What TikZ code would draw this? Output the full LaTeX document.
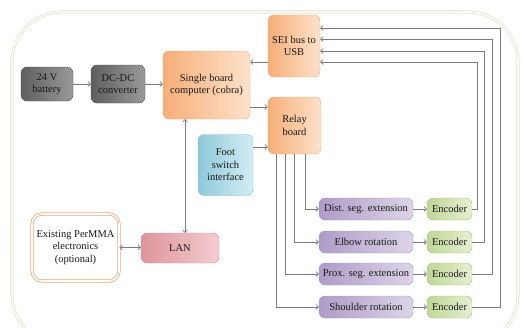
\documentclass[tikz,border=0pt]{standalone}
\usepackage{fontspec}
\setmainfont{Liberation Serif}
\usetikzlibrary{arrows.meta,calc}
\definecolor{lineg}{HTML}{7A7A7A}
\definecolor{frameg}{HTML}{E2E2CC}
\definecolor{orA}{HTML}{F6AE78}
\definecolor{orB}{HTML}{FDE2CB}
\definecolor{orD}{HTML}{EBA774}
\definecolor{grA}{HTML}{5E5E5E}
\definecolor{grB}{HTML}{9A9A9A}
\definecolor{grD}{HTML}{4E4E4E}
\definecolor{blA}{HTML}{8FC9DA}
\definecolor{blB}{HTML}{D3EDF4}
\definecolor{blD}{HTML}{86BFD0}
\definecolor{pkA}{HTML}{DE959B}
\definecolor{pkB}{HTML}{F3CDD0}
\definecolor{pkD}{HTML}{CF9096}
\definecolor{puA}{HTML}{AE9CC7}
\definecolor{puB}{HTML}{DDD4E8}
\definecolor{puD}{HTML}{A594BE}
\definecolor{gnA}{HTML}{C0D696}
\definecolor{gnB}{HTML}{E6EFD2}
\definecolor{gnD}{HTML}{A3BE78}
\tikzset{
  box/.style={rounded corners=6pt, align=center, text=black!90, font=\fontsize{10.5}{12.5}\selectfont, inner sep=1pt},
  sbox/.style={box, shading angle=60},
  graybox/.style={sbox, draw=grD, left color=grA, right color=grB},
  orangebox/.style={sbox, draw=orD, left color=orA, right color=orB},
  bluebox/.style={sbox, draw=blD, left color=blA, right color=blB},
  pinkbox/.style={sbox, draw=pkD, left color=pkA, right color=pkB},
  purplebox/.style={sbox, draw=puD, left color=puA, right color=puB},
  greenbox/.style={sbox, draw=gnD, left color=gnA, right color=gnB},
  dblbox/.style={box, draw=orD, double=white, double distance=1.6pt, line width=0.8pt, rounded corners=10pt, fill=white},
  arr/.style={draw=lineg, line width=0.7pt, -{Straight Barb[length=2.5pt,width=5pt]}},
  darr/.style={draw=lineg, line width=0.7pt, {Straight Barb[length=2.5pt,width=5pt]}-{Straight Barb[length=2.5pt,width=5pt]}},
}
\begin{document}
\begin{tikzpicture}[x=1pt,y=-1pt]
\useasboundingbox (0,0) rectangle (522,327);
\draw[draw=frameg, double=white, double distance=1.5pt, line width=0.8pt, rounded corners=50pt] (12,12) rectangle (518,345);

\node[graybox, minimum width=52pt, minimum height=34pt] (bat) at (47,84) {24 V\\battery};
\node[graybox, minimum width=54pt, minimum height=38pt] (dcdc) at (118,84) {DC-DC\\converter};
\node[orangebox, minimum width=87pt, minimum height=68pt] (sbc) at (206.5,85) {Single board\\computer (cobra)};
\node[orangebox, minimum width=52pt, minimum height=62pt] (sei) at (294,46) {SEI bus to\\USB};
\node[orangebox, minimum width=53pt, minimum height=57pt] (relay) at (294.5,125.5) {Relay\\board};
\node[bluebox, minimum width=55pt, minimum height=61pt] (foot) at (225.5,165) {Foot\\switch\\interface};
\node[pinkbox, minimum width=78pt, minimum height=30pt] (lan) at (180,248) {LAN};
\node[dblbox, minimum width=87pt, minimum height=67pt] (exist) at (75.5,247.5) {Existing PerMMA\\electronics\\(optional)};

\node[purplebox, minimum width=94pt, minimum height=22pt] (dist) at (366,209) {Dist. seg. extension};
\node[purplebox, minimum width=94pt, minimum height=22pt] (elb) at (366,242) {Elbow rotation};
\node[purplebox, minimum width=94pt, minimum height=22pt] (prox) at (366,274) {Prox. seg. extension};
\node[purplebox, minimum width=94pt, minimum height=22pt] (shd) at (366,307) {Shoulder rotation};

\node[greenbox, minimum width=45pt, minimum height=22pt] (e1) at (449.5,209) {Encoder};
\node[greenbox, minimum width=45pt, minimum height=22pt] (e2) at (449.5,242) {Encoder};
\node[greenbox, minimum width=45pt, minimum height=22pt] (e3) at (449.5,274) {Encoder};
\node[greenbox, minimum width=45pt, minimum height=22pt] (e4) at (449.5,307) {Encoder};

\draw[arr] (bat) -- (dcdc);
\draw[arr] (dcdc.east) -- (dcdc.east -| sbc.west);
\draw[arr] (sei.west |- 0,62) -- (sbc.east |- 0,62);
\draw[arr] (sbc.east |- 0,107) -- (relay.west |- 0,107);
\draw[arr] (foot.east |- 0,147) -- (relay.west |- 0,147);
\draw[darr] (sbc.south -| 185,0) -- (lan.north -| 185,0);
\draw[darr] (exist.east) -- (exist.east -| lan.west);

\draw[arr] (relay.south -| 305,0) |- (dist.west);
\draw[arr] (relay.south -| 294,0) |- (elb.west);
\draw[arr] (relay.south -| 285,0) |- (prox.west);
\draw[arr] (relay.south -| 276,0) |- (shd.west);

\draw[arr] (dist) -- (e1);
\draw[arr] (elb) -- (e2);
\draw[arr] (prox) -- (e3);
\draw[arr] (shd) -- (e4);

\draw[arr] (e1.east) -| (477,62) -- (sei.east |- 0,62);
\draw[arr] (e2.east) -| (484,51) -- (sei.east |- 0,51);
\draw[arr] (e3.east) -| (492,39) -- (sei.east |- 0,39);
\draw[arr] (e4.east) -| (500,28) -- (sei.east |- 0,28);
\end{tikzpicture}
\end{document}
